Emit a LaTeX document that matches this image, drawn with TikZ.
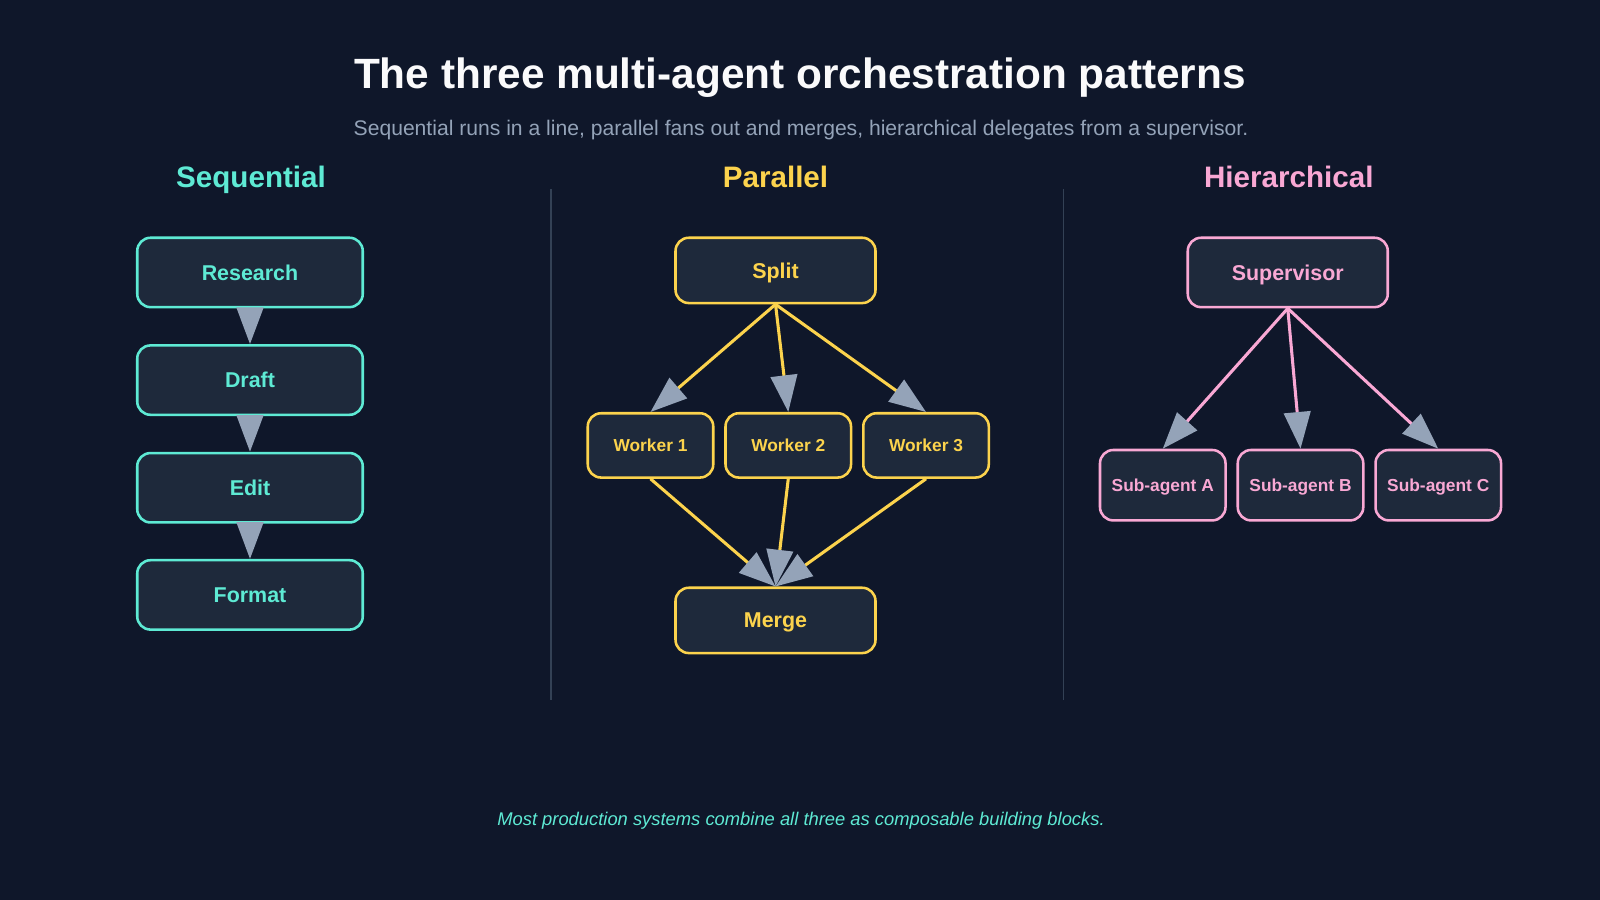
\documentclass[tikz,border=0pt]{standalone}
\usepackage{fontspec}
\setmainfont{Liberation Sans}
\usetikzlibrary{arrows.meta}
\definecolor{bg}{HTML}{0F172A}
\definecolor{nfill}{HTML}{1E293B}
\definecolor{teal}{HTML}{5EEAD4}
\definecolor{yel}{HTML}{FCD34D}
\definecolor{pink}{HTML}{F9A8D4}
\definecolor{slate}{HTML}{94A3B8}
\definecolor{divc}{HTML}{334155}
\begin{document}
\begin{tikzpicture}[x=1pt,y=-1pt,
  box/.style={draw,line width=2.5pt,fill=nfill,rounded corners=13pt,inner sep=0pt,text depth=0pt,font=\bfseries\fontsize{21}{24}\selectfont},
  seq/.style={box,draw=teal,text=teal,minimum width=221pt,minimum height=68pt},
  par/.style={box,draw=yel,text=yel,minimum width=196pt,minimum height=64pt},
  wrk/.style={box,draw=yel,text=yel,minimum width=123pt,minimum height=63pt,font=\bfseries\fontsize{17}{20}\selectfont},
  sup/.style={box,draw=pink,text=pink,minimum width=196pt,minimum height=68pt},
  sub/.style={box,draw=pink,text=pink,minimum width=123pt,minimum height=69pt,font=\bfseries\fontsize{17}{20}\selectfont},
  arr/.style={line width=3pt,-{Triangle[length=36pt,width=26pt,fill=slate,color=slate]}},
  head/.style={anchor=base,font=\bfseries\fontsize{29}{34}\selectfont}]
\fill[bg] (0,0) rectangle (1568,882);
\useasboundingbox (0,0) rectangle (1568,882);
\node[anchor=base,text=white!95!slate,font=\bfseries\fontsize{41.5}{46}\selectfont] (title) at (784,87) {The three multi-agent orchestration patterns};
\node[anchor=base,text=slate,font=\fontsize{20.7}{24}\selectfont] (sub) at (785,133) {Sequential runs in a line, parallel fans out and merges, hierarchical delegates from a supervisor.};
\node[head,text=teal] (h1) at (246,184) {Sequential};
\node[head,text=yel] (h2) at (760,184) {Parallel};
\node[head,text=pink] (h3) at (1263,184) {Hierarchical};
\draw[divc,line width=1.5pt] (540,185) -- (540,686) (1042,185) -- (1042,686);
% sequential
\node[seq] (r) at (245,267) {Research};
\node[seq] (d) at (245,372.5) {Draft};
\node[seq] (e) at (245,478) {Edit};
\node[seq] (f) at (245,583) {Format};
\draw[arr,draw=slate] (r.south) -- (d.north);
\draw[arr,draw=slate] (d.south) -- (e.north);
\draw[arr,draw=slate] (e.south) -- (f.north);
% parallel
\node[par] (s) at (760,265) {Split};
\node[wrk] (w1) at (637.5,436.5) {Worker 1};
\node[wrk] (w2) at (772.5,436.5) {Worker 2};
\node[wrk] (w3) at (907.5,436.5) {Worker 3};
\node[par] (m) at (760,608) {Merge};
\foreach \w in {w1,w2,w3}{
  \draw[arr,draw=yel] (s.south) -- (\w.north);
  \draw[arr,draw=yel] (\w.south) -- (m.north);}
% hierarchical
\node[sup] (sv) at (1262,267) {Supervisor};
\node[sub] (a) at (1139.5,475.5) {Sub-agent A};
\node[sub] (b) at (1274.5,475.5) {Sub-agent B};
\node[sub] (c) at (1409.5,475.5) {Sub-agent C};
\foreach \w in {a,b,c}{\draw[arr,draw=pink] (sv.south) -- (\w.north);}
\node[anchor=base,text=teal,font=\itshape\fontsize{18}{22}\selectfont] (foot) at (785,809) {Most production systems combine all three as composable building blocks.};
\end{tikzpicture}
\end{document}
